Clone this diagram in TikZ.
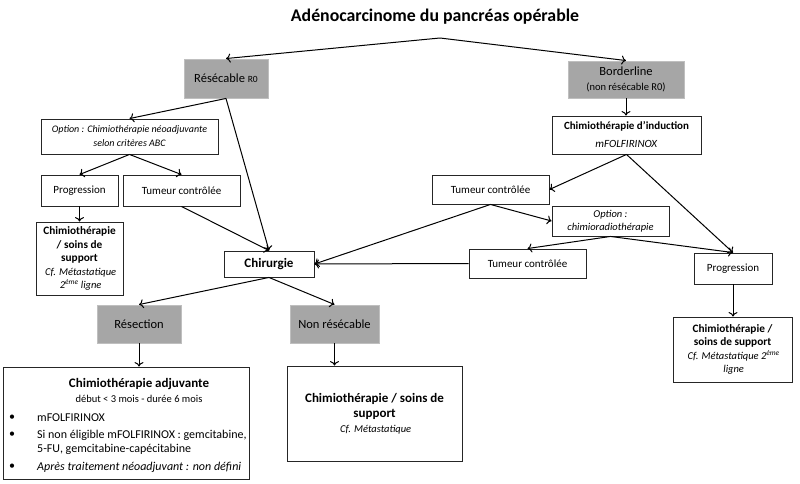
\documentclass[tikz,border=0pt]{standalone}
\usepackage{fontspec}
\setmainfont{Carlito}
\usetikzlibrary{arrows.meta,shadows}
\definecolor{boxgray}{RGB}{166,166,166}
\newcommand{\fsz}[2]{\fontsize{#1}{#2}\selectfont}
\begin{document}
\begin{tikzpicture}[x=1pt,y=-1pt,
  box/.style={draw=black!85, line width=0.9pt, fill=white, inner sep=1pt, align=center,
    drop shadow={shadow xshift=1.2pt,shadow yshift=-1.2pt,opacity=0.3}},
  graybox/.style={box, fill=boxgray, draw=black!25},
  arr/.style={line width=1pt, -{To[length=4.5pt,width=9pt]}},
  txt/.style={inner sep=0pt}
]
\fill[white] (0,0) rectangle (800,484);
\useasboundingbox (0,0) rectangle (800,484);

% title
\node[txt, font=\bfseries\fsz{17.8}{20}] (title) at (435,17) {Adénocarcinome du pancréas opérable};
\coordinate (apex) at (440,38);

% top level
\node[graybox, minimum width=84pt, minimum height=39pt, font=\fsz{12.5}{14}] (res) at (226,78.5) {Résécable {\fsz{9.5}{10}R0}};
\node[graybox, minimum width=116pt, minimum height=37pt, font=\fsz{12.5}{15}] (bord) at (626,79.5) {Borderline\\{\fsz{10.5}{11}(non résécable R0)}};

% left branch
\node[box, minimum width=177pt, minimum height=35pt, font=\itshape\fsz{10}{14}] (optL) at (129.5,136.5) {Option : Chimiothérapie néoadjuvante\\selon critères ABC};
\node[box, minimum width=77pt, minimum height=31pt, font=\fsz{11}{13}] (progL) at (79.5,190.5) {Progression};
\node[box, minimum width=117pt, minimum height=31pt, font=\fsz{11}{13}] (tumL) at (181.5,190.5) {Tumeur contrôlée};
\node[box, minimum width=87pt, minimum height=73pt, font=\fsz{11.3}{13.5}] (chimL) at (79.5,258.5) {\textbf{Chimiothérapie}\\\textbf{/ soins de}\\\textbf{support}\\{\itshape\fsz{10.5}{13} Cf. Métastatique}\\{\itshape\fsz{10.5}{13} 2\textsuperscript{ème} ligne}};

% centre
\node[box, minimum width=90pt, minimum height=26pt, font=\bfseries\fsz{13}{14}] (chir) at (269,264) {Chirurgie};

% right branch
\node[box, minimum width=149pt, minimum height=38pt, font=\fsz{11}{18}] (induc) at (626.5,135) {\textbf{Chimiothérapie d’induction}\\\textit{mFOLFIRINOX}};
\node[box, minimum width=117pt, minimum height=29pt, font=\fsz{11}{13}] (tumR1) at (490.5,189.5) {Tumeur contrôlée};
\node[box, minimum width=117pt, minimum height=30pt, font=\itshape\fsz{10.5}{13}] (optR) at (610.5,221) {Option :\\chimioradiothérapie};
\node[box, minimum width=117pt, minimum height=29pt, font=\fsz{11}{13}] (tumR2) at (527.5,263.5) {Tumeur contrôlée};
\node[box, minimum width=78pt, minimum height=31pt, font=\fsz{11}{13}] (progR) at (733,268.5) {Progression};
\node[box, minimum width=119pt, minimum height=65pt, font=\fsz{11.3}{13.5}] (chimR) at (732.5,349.5) {\textbf{Chimiothérapie /}\\\textbf{soins de support}\\{\itshape\fsz{10.5}{13} Cf. Métastatique 2\textsuperscript{ème}}\\{\itshape\fsz{10.5}{13} ligne}};

% bottom
\node[graybox, minimum width=84pt, minimum height=38pt, font=\fsz{12.5}{14}] (resect) at (139,324) {Résection};
\node[graybox, minimum width=89pt, minimum height=38pt, font=\fsz{12.5}{14}] (nonres) at (334.5,324) {Non résécable};
\node[box, minimum width=246pt, minimum height=112pt] (adj) at (126,423) {};
\node[box, minimum width=175pt, minimum height=95pt, font=\fsz{13}{15}] (chimM) at (374.5,413.5) {\textbf{Chimiothérapie / soins de}\\\textbf{support}\\{\itshape\fsz{10.5}{15} Cf. Métastatique}};

% adjuvant box contents
\node[txt, font=\bfseries\fsz{13}{14}] (adjh) at (139,384) {Chimiothérapie adjuvante};
\node[txt, font=\fsz{10.5}{12}] (adjs) at (139,399) {début < 3 mois - durée 6 mois};
\node[txt, anchor=west, font=\fsz{12}{13}] (b1) at (9,418) {•};
\node[txt, anchor=west, font=\fsz{12}{13}] (t1) at (37,418) {mFOLFIRINOX};
\node[txt, anchor=west, font=\fsz{12}{13}] (b2) at (9,435) {•};
\node[txt, anchor=west, font=\fsz{12}{13}] (t2) at (37,435) {Si non éligible mFOLFIRINOX : gemcitabine,};
\node[txt, anchor=west, font=\fsz{12}{13}] (t3) at (37,449.5) {5-FU, gemcitabine-capécitabine};
\node[txt, anchor=west, font=\fsz{12}{13}] (b4) at (9,467) {•};
\node[txt, anchor=west, font=\itshape\fsz{12}{13}] (t4) at (37,467) {Après traitement néoadjuvant : non défini};

% connectors
\draw[arr] (apex) -- (res.north);
\draw[arr] (apex) -- (bord.north);
\draw[arr] (res.south) -- (optL.north);
\draw[arr] (res.south) -- (chir.north);
\draw[arr] (optL.south) -- (progL.north);
\draw[arr] (optL.south) -- (tumL.north);
\draw[arr] (progL.south) -- (chimL.north);
\draw[arr] (tumL.south) -- (chir.north);
\draw[arr] (bord.south) -- (bord.south |- induc.north);
\draw[arr] (induc.south) -- (tumR1.east);
\draw[arr] (induc.south) -- (progR.north);
\draw[arr] (tumR1.south) -- (optR.west);
\draw[arr] (tumR1.south) -- (chir.east);
\draw[arr] (optR.south) -- (tumR2.north);
\draw[arr] (optR.south) -- (progR.north);
\draw[arr] (tumR2.west) -- (chir.east);
\draw[arr] (progR.south) -- (progR.south |- chimR.north);
\draw[arr] (chir.south) -- (resect.north);
\draw[arr] (chir.south) -- (nonres.north);
\draw[arr] (resect.south) -- (resect.south |- adj.north);
\draw[arr] (nonres.south) -- (nonres.south |- chimM.north);
\end{tikzpicture}
\end{document}
